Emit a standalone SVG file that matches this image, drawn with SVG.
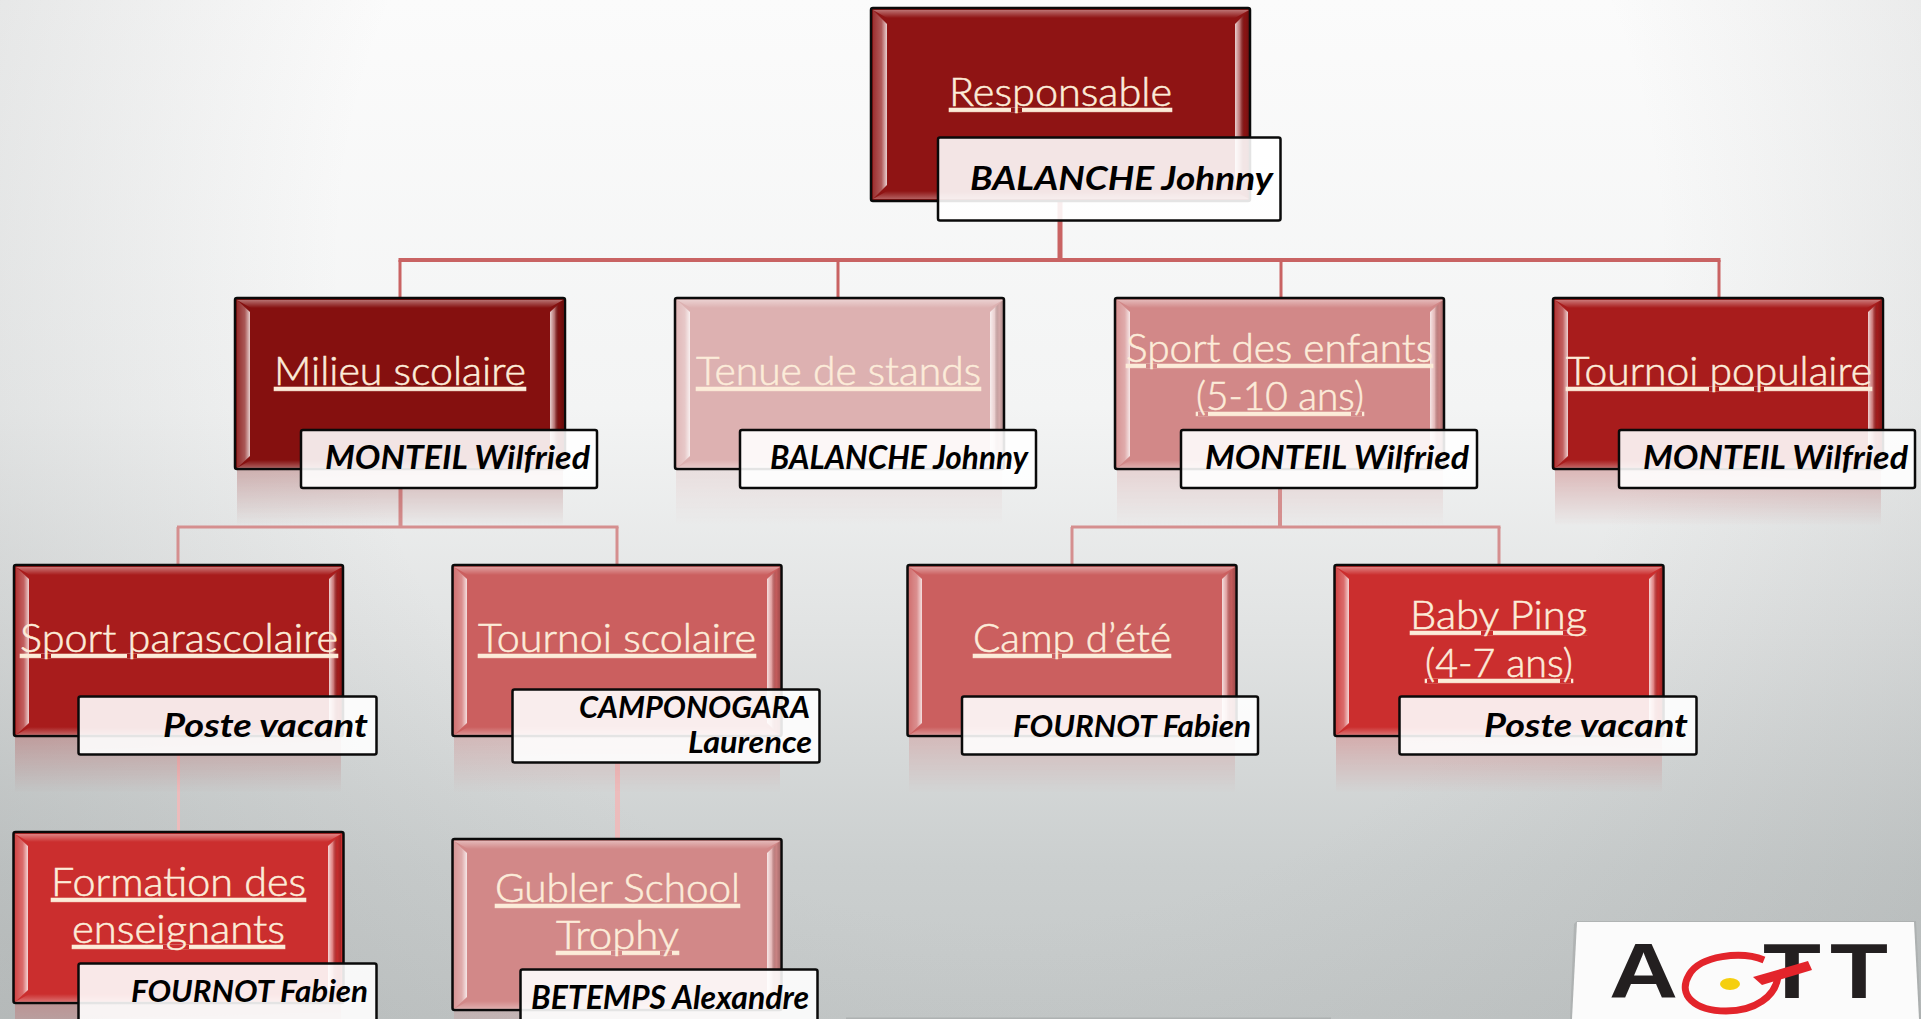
<svg xmlns="http://www.w3.org/2000/svg" width="1921" height="1019" viewBox="0 0 1921 1019">
<style>
.t{font-family:"Lato","Open Sans","Liberation Sans",sans-serif;font-size:39px;font-weight:300;fill:#fcecd9;stroke:#fcecd9;stroke-width:.55px;text-decoration:underline;text-decoration-thickness:2px}
.n{font-family:"Lato","Open Sans","Liberation Sans",sans-serif;font-size:33px;font-weight:700;font-style:italic;fill:#000}
.box{stroke:#0a0a0a;stroke-width:2.5}
.lab{fill:#fff;fill-opacity:.89;stroke:#0a0a0a;stroke-width:2.5}
.c1{fill:#8f1414}.c2{fill:#85100f}.c3{fill:#ddb1b1}.c4{fill:#d28888}.c5{fill:#a81c1c}.c6{fill:#cb5f5f}.c7{fill:#cb2e2e}
.l{fill:none;stroke-linecap:butt}
.ref{opacity:.26}
</style>
<defs>
<linearGradient id="bgV" x1="0" y1="0" x2="0" y2="1">
<stop offset="0" stop-color="#fbfbfb"/><stop offset=".4" stop-color="#f3f4f4"/><stop offset=".62" stop-color="#e1e3e3"/><stop offset=".85" stop-color="#cbcfcf"/><stop offset="1" stop-color="#c4c8c8"/>
</linearGradient>
<radialGradient id="bgR" gradientUnits="userSpaceOnUse" cx="1000" cy="260" r="1200">
<stop offset=".55" stop-color="#8a8f8f" stop-opacity="0"/><stop offset="1" stop-color="#8a8f8f" stop-opacity=".26"/>
</radialGradient>
<linearGradient id="bt" x1="0" y1="0" x2="0" y2="1"><stop offset="0" stop-color="#fff" stop-opacity=".4"/><stop offset="1" stop-color="#fff" stop-opacity="0"/></linearGradient>
<linearGradient id="bb" x1="0" y1="0" x2="0" y2="1"><stop offset="0" stop-color="#fff" stop-opacity="0"/><stop offset="1" stop-color="#fff" stop-opacity=".32"/></linearGradient>
<linearGradient id="bl" x1="0" y1="0" x2="1" y2="0"><stop offset="0" stop-color="#fff" stop-opacity=".12"/><stop offset=".6" stop-color="#fff" stop-opacity=".3"/><stop offset="1" stop-color="#fff" stop-opacity=".8"/></linearGradient>
<linearGradient id="br" x1="0" y1="0" x2="1" y2="0"><stop offset="0" stop-color="#fff" stop-opacity=".8"/><stop offset=".35" stop-color="#fff" stop-opacity=".4"/><stop offset=".7" stop-color="#000" stop-opacity=".03"/><stop offset="1" stop-color="#000" stop-opacity=".2"/></linearGradient>
<linearGradient id="fadeG" x1="0" y1="0" x2="0" y2="1"><stop offset="0" stop-color="#fff"/><stop offset="1" stop-color="#000"/></linearGradient>
<mask id="fade" maskContentUnits="objectBoundingBox"><rect width="1" height="1" fill="url(#fadeG)"/></mask>
<g id="bev">
<polygon points="2,2 328,2 314,10 16,10" fill="url(#bt)"/>
<polygon points="2,170 328,170 314,162 16,162" fill="url(#bb)"/>
<polygon points="2,2 15,14 15,158 2,170" fill="url(#bl)"/>
<polygon points="328,2 315,14 315,158 328,170" fill="url(#br)"/>
</g>
<g id="bevR">
<polygon points="2,2 378,2 364,10 16,10" fill="url(#bt)"/>
<polygon points="2,191 378,191 364,183 16,183" fill="url(#bb)"/>
<polygon points="2,2 16,16 16,177 2,191" fill="url(#bl)"/>
<polygon points="378,2 364,16 364,177 378,191" fill="url(#br)"/>
</g>
</defs>
<g id="background">
<rect width="1921" height="1019" fill="url(#bgV)"/>
<rect width="1921" height="1019" fill="url(#bgR)"/>
<rect x="846" y="1017.500" width="485" height="1.500" fill="#aeb2b2"/>
</g>
<g id="connectors" class="l">
<g stroke="#c96363">
<path d="M1060 201V260" stroke-width="5"/>
<path d="M398.500 260H1720.500" stroke-width="4"/>
<path d="M400 260V297M838 260V297M1281 260V297M1719 260V297" stroke-width="3"/>
</g>
<g stroke="#d58f8f">
<path d="M400.500 488V527M1280 488V527" stroke-width="4"/>
<path d="M177 527H618.500M1071 527H1500.500" stroke-width="3"/>
<path d="M178 527V564M617 527V564M1072 527V564M1499 527V564" stroke-width="3"/>
</g>
<g stroke="#ecbcbc">
<path d="M178.500 755V831" stroke-width="3"/>
<path d="M617.500 763V838" stroke-width="5"/>
</g>
</g>
<g id="n-responsable">
<rect class="box c1" x="871" y="8" width="379" height="193" rx="2"/>
<use href="#bevR" x="871" y="8"/>
<text class="t" x="949" y="106" textLength="223" lengthAdjust="spacingAndGlyphs">Responsable</text>
<rect class="lab" x="938" y="137.500" width="342.500" height="83" rx="2"/>
<text class="n" x="970" y="190" textLength="303" lengthAdjust="spacingAndGlyphs">BALANCHE Johnny</text>
</g>
<g id="n-milieu">
<rect class="c2 ref" x="237" y="470" width="326" height="56" mask="url(#fade)"/>
<rect class="box c2" x="235" y="298" width="330" height="171" rx="2"/>
<use href="#bev" x="235" y="298"/>
<text class="t" x="274" y="385" textLength="252" lengthAdjust="spacingAndGlyphs">Milieu scolaire</text>
<rect class="lab" x="301" y="430" width="296" height="58" rx="2"/>
<text class="n" x="325" y="469" textLength="265" lengthAdjust="spacingAndGlyphs">MONTEIL Wilfried</text>
</g>
<g id="n-tenue">
<rect class="c3 ref" x="676" y="470" width="326" height="56" mask="url(#fade)"/>
<rect class="box c3" x="675" y="298" width="329" height="171" rx="2"/>
<use href="#bev" x="675" y="298"/>
<text class="t" x="696" y="385" textLength="285" lengthAdjust="spacingAndGlyphs">Tenue de stands</text>
<rect class="lab" x="740" y="430" width="296" height="58" rx="2"/>
<text class="n" x="770" y="469" textLength="258" lengthAdjust="spacingAndGlyphs">BALANCHE Johnny</text>
</g>
<g id="n-enfants">
<rect class="c4 ref" x="1117" y="470" width="326" height="56" mask="url(#fade)"/>
<rect class="box c4" x="1115" y="298" width="329" height="171" rx="2"/>
<use href="#bev" x="1115" y="298"/>
<text class="t" x="1126" y="362" textLength="307" lengthAdjust="spacingAndGlyphs">Sport des enfants</text>
<text class="t" x="1196" y="410" textLength="168" lengthAdjust="spacingAndGlyphs">(5-10 ans)</text>
<rect class="lab" x="1181" y="430" width="296" height="58" rx="2"/>
<text class="n" x="1205" y="469" textLength="264" lengthAdjust="spacingAndGlyphs">MONTEIL Wilfried</text>
</g>
<g id="n-populaire">
<rect class="c5 ref" x="1555" y="470" width="326" height="56" mask="url(#fade)"/>
<rect class="box c5" x="1553" y="298" width="330" height="171" rx="2"/>
<use href="#bev" x="1553" y="298"/>
<text class="t" x="1566" y="385" textLength="306" lengthAdjust="spacingAndGlyphs">Tournoi populaire</text>
<rect class="lab" x="1619" y="430" width="296" height="58" rx="2"/>
<text class="n" x="1643" y="469" textLength="265" lengthAdjust="spacingAndGlyphs">MONTEIL Wilfried</text>
</g>
<g id="n-parascolaire">
<rect class="c5 ref" x="15" y="737" width="326" height="56" mask="url(#fade)"/>
<rect class="box c5" x="14" y="565" width="329" height="171" rx="2"/>
<use href="#bev" x="14" y="565"/>
<text class="t" x="20" y="652" textLength="318" lengthAdjust="spacingAndGlyphs">Sport parascolaire</text>
<rect class="lab" x="78.500" y="696.500" width="298" height="58" rx="2"/>
<text class="n" x="163" y="737" textLength="205" lengthAdjust="spacingAndGlyphs">Poste vacant</text>
</g>
<g id="n-tournoi-scolaire">
<rect class="c6 ref" x="454" y="737" width="326" height="56" mask="url(#fade)"/>
<rect class="box c6" x="452.500" y="565" width="329" height="171" rx="2"/>
<use href="#bev" x="452" y="565"/>
<text class="t" x="478" y="652" textLength="278" lengthAdjust="spacingAndGlyphs">Tournoi scolaire</text>
<rect class="lab" x="512.500" y="689.500" width="307" height="73" rx="2"/>
<text class="n" x="579" y="718" textLength="231" lengthAdjust="spacingAndGlyphs" style="font-size:30px">CAMPONOGARA</text>
<text class="n" x="688" y="753" textLength="124" lengthAdjust="spacingAndGlyphs" style="font-size:30px">Laurence</text>
</g>
<g id="n-camp">
<rect class="c6 ref" x="909" y="737" width="326" height="56" mask="url(#fade)"/>
<rect class="box c6" x="907.500" y="565" width="329" height="171" rx="2"/>
<use href="#bev" x="907" y="565"/>
<text class="t" x="973" y="652" textLength="198" lengthAdjust="spacingAndGlyphs">Camp d’été</text>
<rect class="lab" x="962" y="696.500" width="296" height="58" rx="2"/>
<text class="n" x="1013" y="737" textLength="238" lengthAdjust="spacingAndGlyphs" style="font-size:30px">FOURNOT Fabien</text>
</g>
<g id="n-baby">
<rect class="c7 ref" x="1336" y="737" width="326" height="56" mask="url(#fade)"/>
<rect class="box c7" x="1334.500" y="565" width="329" height="171" rx="2"/>
<use href="#bev" x="1334" y="565"/>
<text class="t" x="1410" y="629" textLength="177" lengthAdjust="spacingAndGlyphs">Baby Ping</text>
<text class="t" x="1425" y="677" textLength="148" lengthAdjust="spacingAndGlyphs">(4-7 ans)</text>
<rect class="lab" x="1399.500" y="696.500" width="297" height="58" rx="2"/>
<text class="n" x="1484" y="737" textLength="204" lengthAdjust="spacingAndGlyphs">Poste vacant</text>
</g>
<g id="n-formation">
<rect class="c7 ref" x="15" y="1004" width="326" height="56" mask="url(#fade)"/>
<rect class="box c7" x="13.500" y="832" width="330" height="171" rx="2"/>
<use href="#bev" x="13" y="832"/>
<text class="t" x="51" y="896" textLength="255" lengthAdjust="spacingAndGlyphs">Formation des</text>
<text class="t" x="72" y="943" textLength="213" lengthAdjust="spacingAndGlyphs">enseignants</text>
<rect class="lab" x="78.500" y="963.500" width="298" height="60" rx="2"/>
<text class="n" x="131" y="1002" textLength="237" lengthAdjust="spacingAndGlyphs" style="font-size:30px">FOURNOT Fabien</text>
</g>
<g id="n-gubler">
<rect class="c4 ref" x="454" y="1011" width="326" height="56" mask="url(#fade)"/>
<rect class="box c4" x="452.500" y="839" width="329" height="171" rx="2"/>
<use href="#bev" x="452" y="839"/>
<text class="t" x="495" y="902" textLength="245" lengthAdjust="spacingAndGlyphs">Gubler School</text>
<text class="t" x="556" y="949" textLength="123" lengthAdjust="spacingAndGlyphs">Trophy</text>
<rect class="lab" x="520.500" y="969.500" width="297" height="60" rx="2"/>
<text class="n" x="531" y="1009" textLength="278" lengthAdjust="spacingAndGlyphs">BETEMPS Alexandre</text>
</g>
<g id="logo">
<polygon points="1574,924 1577,921 1916,921 1921,1019 1570,1019" fill="#a5a9a9" opacity=".6"/>
<polygon points="1577,922 1914,922 1919,1019 1572,1019" fill="#fbfbfb"/>
<text x="1609" y="998" style="font-family:'Liberation Sans',sans-serif;font-weight:700;font-size:77px;fill:#231f20" textLength="69" lengthAdjust="spacingAndGlyphs">A</text>
<text x="1763" y="998" style="font-family:'Liberation Sans',sans-serif;font-weight:700;font-size:77px;fill:#231f20" textLength="58" lengthAdjust="spacingAndGlyphs">T</text>
<text x="1830" y="998" style="font-family:'Liberation Sans',sans-serif;font-weight:700;font-size:77px;fill:#231f20" textLength="58" lengthAdjust="spacingAndGlyphs">T</text>
<path d="M1764 960C1742 951 1700 955 1689 975C1677 995 1695 1011 1726 1011C1756 1011 1775 996 1778 977" fill="none" stroke="#e3242b" stroke-width="7"/>
<polygon points="1753,977 1808,961 1812,970 1762,985" fill="#e3242b"/>
<ellipse cx="1730" cy="984" rx="10" ry="6" fill="#f5cf0f"/>
</g>
</svg>
